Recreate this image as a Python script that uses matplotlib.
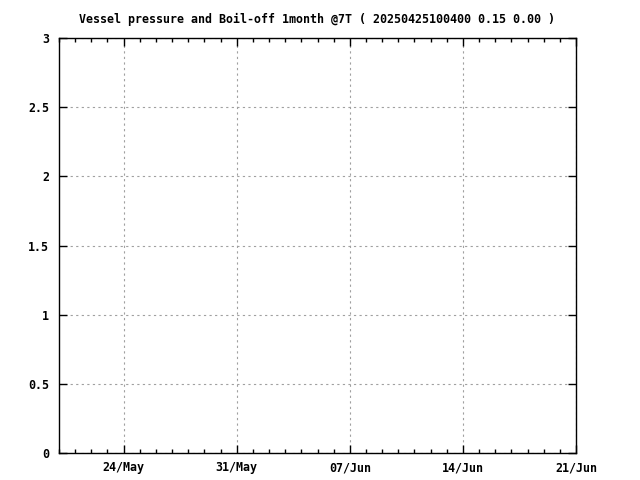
import datetime as dt
import matplotlib
matplotlib.use("Agg")
import matplotlib.pyplot as plt
import matplotlib.dates as mdates

# data (chart is empty: no samples in the window)
times = []
pressure = []
title = "Vessel pressure and Boil-off 1month @7T ( 20250425100400 0.15 0.00 )"
x_start = dt.datetime(2025, 5, 20)
x_end = dt.datetime(2025, 6, 21)
y_ticks = [0, 0.5, 1, 1.5, 2, 2.5, 3]
y_labels = ["0", "0.5", "1", "1.5", "2", "2.5", "3"]

plt.rcParams['font.family'] = ['DejaVu Sans Mono']
plt.rcParams['font.size'] = 8.4
plt.rcParams['font.weight'] = 'bold'

fig = plt.figure(figsize=(6.4, 4.8), dpi=100)
ax = fig.add_axes([59/640, 1-453/480, 517/640, 415/480])

ax.plot(times, pressure, color='red')

ax.set_xlim(x_start, x_end)
ax.set_ylim(0, 3)
ax.set_yticks(y_ticks)
ax.set_yticklabels(y_labels)

ax.xaxis.set_major_locator(mdates.WeekdayLocator(byweekday=mdates.SA))
ax.xaxis.set_major_formatter(mdates.DateFormatter("%d/%b"))
ax.xaxis.set_minor_locator(mdates.DayLocator())

ax.tick_params(which='major', direction='in', length=6, width=1, top=True, right=True)
ax.tick_params(which='minor', direction='in', length=3, width=1, top=True, bottom=True)
ax.tick_params(axis='x', pad=6)
ax.tick_params(axis='y', pad=7)
ax.grid(True, which='major', linestyle=(0, (2, 3)), color='#a0a0a0', linewidth=0.8)
for s in ax.spines.values():
    s.set_linewidth(1)

fig.text(317/640, 1-19/480, title, ha='center', va='center', fontsize=8.4, fontweight='bold')

fig.savefig("out.png", dpi=100)
